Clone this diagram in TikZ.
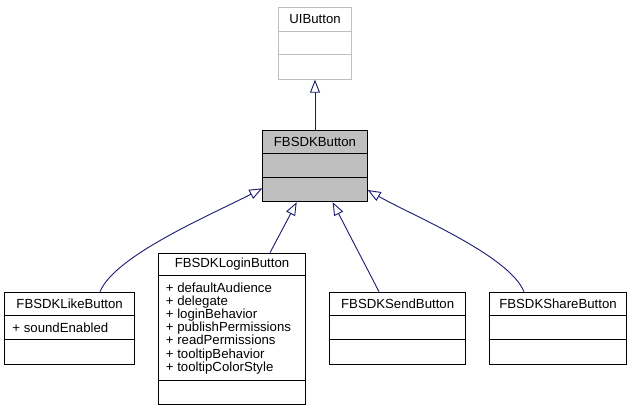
\documentclass[tikz,border=0pt]{standalone}
\usepackage{fontspec}
\setmainfont{Liberation Sans}
\usetikzlibrary{arrows.meta}
\definecolor{edgec}{HTML}{191970}
\definecolor{boxgrey}{HTML}{BFBFBF}
\begin{document}
\begin{tikzpicture}[x=1pt,y=-1pt,
  classbox/.style={draw=black, line width=1pt, fill=white, inner sep=0pt, anchor=north west},
  divider/.style={draw=black, line width=1pt},
  lbl/.style={font=\fontsize{13.2}{13.2}\selectfont, inner sep=0pt},
  attrs/.style={font=\fontsize{13.2}{13.2}\selectfont, inner sep=0pt, anchor=west, align=left},
  edge/.style={draw=edgec, line width=0.9pt, -{Triangle[open,length=13pt,width=10pt]}}]
\useasboundingbox (0,0) rectangle (633,411);

% UIButton
\node[classbox, draw=boxgrey, minimum width=73.6pt, minimum height=72pt] (ui) at (277.7,6.7) {};
\draw[divider, draw=boxgrey] ([yshift=-24.6pt]ui.north west) -- ([yshift=-24.6pt]ui.north east);
\draw[divider, draw=boxgrey] ([yshift=-47.6pt]ui.north west) -- ([yshift=-47.6pt]ui.north east);
\node[lbl] (uit) at ([yshift=-12.3pt]ui.north) {UIButton};

% FBSDKButton
\node[classbox, fill=boxgrey, minimum width=104.4pt, minimum height=71.6pt] (btn) at (262.3,129.7) {};
\draw[divider] ([yshift=-24pt]btn.north west) -- ([yshift=-24pt]btn.north east);
\draw[divider] ([yshift=-48pt]btn.north west) -- ([yshift=-48pt]btn.north east);
\node[lbl] (btnt) at ([yshift=-12pt]btn.north) {FBSDKButton};

% FBSDKLikeButton
\node[classbox, minimum width=129.7pt, minimum height=72.6pt] (like) at (4.3,291.7) {};
\draw[divider] ([yshift=-24.3pt]like.north west) -- ([yshift=-24.3pt]like.north east);
\draw[divider] ([yshift=-47.6pt]like.north west) -- ([yshift=-47.6pt]like.north east);
\node[lbl] (liket) at ([yshift=-12.1pt]like.north) {FBSDKLikeButton};
\node[attrs] (likea) at ([xshift=8pt,yshift=-36pt]like.north west) {+ soundEnabled};

% FBSDKLoginButton
\node[classbox, minimum width=147.6pt, minimum height=151.3pt] (login) at (157.7,252.7) {};
\draw[divider] ([yshift=-23.3pt]login.north west) -- ([yshift=-23.3pt]login.north east);
\draw[divider] ([yshift=-127.6pt]login.north west) -- ([yshift=-127.6pt]login.north east);
\node[lbl] (logint) at ([yshift=-11.7pt]login.north) {FBSDKLoginButton};
\node[attrs] (logina) at ([xshift=8pt,yshift=-75.6pt]login.north west) {+ defaultAudience\\+ delegate\\+ loginBehavior\\+ publishPermissions\\+ readPermissions\\+ tooltipBehavior\\+ tooltipColorStyle};

% FBSDKSendButton
\node[classbox, minimum width=135.7pt, minimum height=72.6pt] (send) at (329.3,291.7) {};
\draw[divider] ([yshift=-24.3pt]send.north west) -- ([yshift=-24.3pt]send.north east);
\draw[divider] ([yshift=-48pt]send.north west) -- ([yshift=-48pt]send.north east);
\node[lbl] (sendt) at ([yshift=-12.1pt]send.north) {FBSDKSendButton};

% FBSDKShareButton
\node[classbox, minimum width=137pt, minimum height=72.6pt] (share) at (489,291.7) {};
\draw[divider] ([yshift=-24.3pt]share.north west) -- ([yshift=-24.3pt]share.north east);
\draw[divider] ([yshift=-48pt]share.north west) -- ([yshift=-48pt]share.north east);
\node[lbl] (sharet) at ([yshift=-12.1pt]share.north) {FBSDKShareButton};

% edges
\draw[edge] (btn.north) -- (ui.south);
\draw[edge] ([xshift=95.7pt]like.north west) .. controls (115,255) and (215,213) .. ([yshift=-58.6pt]btn.north west);
\draw[edge] ([xshift=112.3pt]login.north west) -- ([xshift=34.4pt]btn.south west);
\draw[edge] ([xshift=49.7pt]send.north west) -- ([xshift=70.4pt]btn.south west);
\draw[edge] ([xshift=35pt]share.north west) .. controls (509,255) and (411,215) .. ([yshift=-60.3pt]btn.north east);
\end{tikzpicture}
\end{document}
